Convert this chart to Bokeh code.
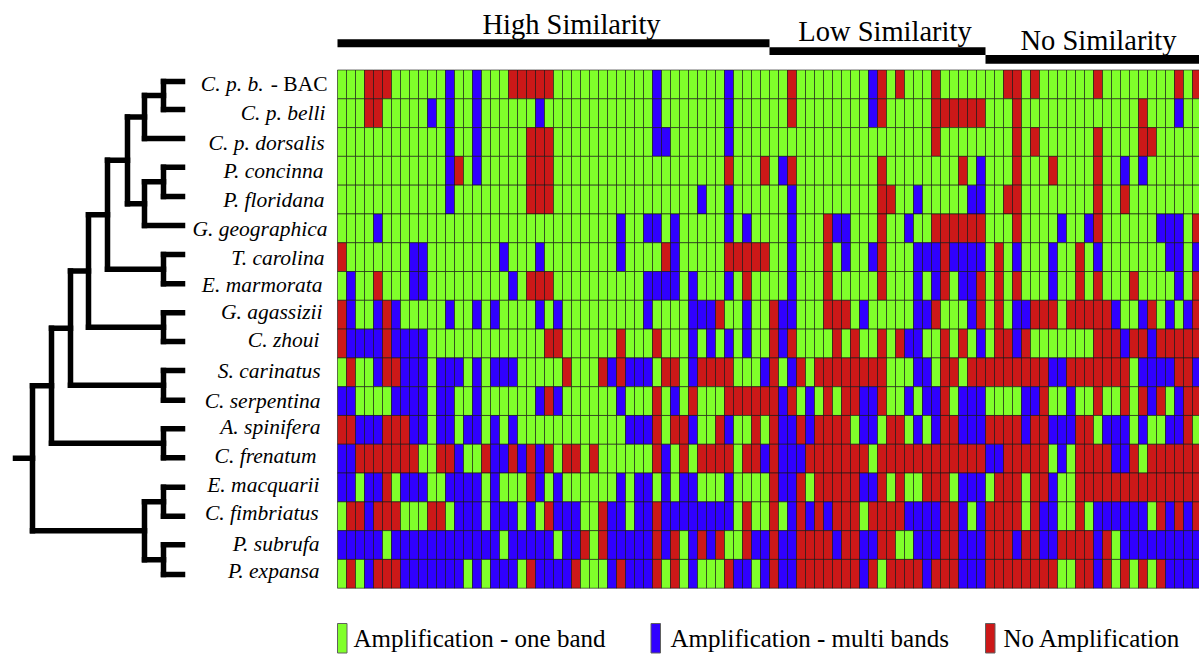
from bokeh.embed import file_html
from bokeh.resources import INLINE
from bokeh.plotting import figure
from bokeh.models import ColumnDataSource, Range1d
from bokeh.core.properties import value

species = ["C. p. b.", "C. p. belli", "C. p. dorsalis", "P. concinna", "P. floridana", "G. geographica",
           "T. carolina", "E. marmorata", "G. agassizii", "C. zhoui", "S. carinatus", "C. serpentina",
           "A. spinifera", "C. frenatum", "E. macquarii", "C. fimbriatus", "P. subrufa", "P. expansa"]
label_right = [263, 325, 324, 323, 324, 327, 324, 322, 322, 319, 320, 320, 320, 316, 319, 318, 319, 319]
label_y = [83.5, 112, 142, 170.5, 199, 228.5, 257, 284.5, 311, 339.5, 370.5, 400, 426, 455, 484, 512.5, 543, 570]
leaf_y = [81, 109, 138, 166.7, 196, 225, 254, 283.3, 312.3, 341, 370, 399.7, 428.3, 457.3, 486.7, 515.7, 544.3, 574]
n_columns = 96

multi_band = [
    [12,15,35,43,59],
    [10,12,15,22,35,43,59,93],
    [12,15,35,36,43],
    [12,15,49,71,87,89],
    [12,40,43,50,64,70,71],
    [4,31,34,35,37,43,45,50,55,56,63,80,83,91,92,93],
    [8,9,18,22,31,37,50,56,59,64,65,66,68,69,70,71,75,79,84,92,93,95],
    [1,8,9,19,34,35,36,37,39,43,50,64,66,69,70,79,93],
    [1,4,6,12,15,17,22,24,34,39,40,41,45,49,50,58,64,65,70,75,76,86,89,92,94],
    [1,2,3,4,6,7,8,9,39,41,43,45,49,63,64,71,75,87,90],
    [4,7,8,9,11,12,13,15,17,18,19,30,32,33,34,39,47,50,64,65,79,80,89,90,91,92,95],
    [0,1,6,7,8,9,11,12,15,22,24,31,37,49,52,58,59,63,65,66,69,70,71,76,77,81,90,93],
    [2,3,4,8,9,11,12,14,15,17,19,32,33,34,39,43,49,50,52,58,59,64,66,69,70,71,76,79,80,81,85,86,87,89,92,93],
    [0,1,13,17,18,20,22,36,47,49,50,51,72,73,80,86,87],
    [0,1,3,4,7,8,9,12,13,14,15,17,22,24,31,33,34,36,38,39,43,49,50,58,59,69,70,71,79],
    [3,13,14,15,17,18,19,21,24,25,26,30,31,33,34,36,37,38,39,40,41,42,43,50,52,54,63,64,65,66,69,71,78,79,84,85,86,87,88,89,92,94],
    [0,1,2,3,4,6,7,8,9,10,11,12,13,14,15,16,17,19,20,21,22,23,25,26,30,31,32,33,34,36,39,41,46,47,49,50,55,58,59,64,65,66,69,70,71,75,78,79,84,87,88,89,90,91,92,93,94,95],
    [3,7,8,9,10,11,12,13,15,17,18,19,22,23,24,25,30,32,33,34,39,44,45,47,49,50,58,65,69,70,71,84,92,93,94,95],
]
no_amp = [
    [3,4,5,19,20,21,22,23,50,60,62,66,74,75,77,84,93,95],
    [3,4,50,60,66,67,68,69,70,71,75,89],
    [21,22,23,66,75,77,84,89,90],
    [13,21,22,23,43,47,50,60,69,75,79,84],
    [21,22,23,60,61,74,75,84,87],
    [54,60,66,67,68,69,70,71,75,84,95],
    [0,36,43,44,45,46,47,54,60,67,73,82],
    [4,21,22,23,45,54,60,67,71,73,75,82,84,88,95],
    [0,5,42,48,54,55,56,66,71,73,77,78,79,81,82,83,84,85,90,95],
    [0,5,23,24,31,35,48,50,55,57,60,62,67,69,73,74,76,84,85,86,88,89,91,92,93,94,95],
    [1,5,6,25,29,31,36,37,40,41,42,43,48,51,53,54,55,56,57,58,59,60,67,68,70,71,72,73,74,75,76,77,78,81,82,83,84,85,86,87,93,94],
    [23,35,39,43,44,45,46,47,48,50,54,56,57,60,67,78,84,87,89,91,94,95],
    [0,1,5,6,7,35,37,38,42,46,48,51,53,54,55,56,61,62,67,68,72,73,74,75,77,78,82,83,94],
    [2,3,4,5,6,7,8,11,12,16,19,21,23,25,26,28,35,38,40,41,42,43,45,46,48,52,53,54,55,56,57,58,60,61,62,63,64,65,66,67,68,69,70,71,74,75,76,77,78,82,83,84,85,88,90,91,92,93,94,95],
    [5,21,48,51,53,54,55,56,57,60,62,65,66,67,73,74,75,77,78,82,83,84,85,86,87,88,89,90,91,92,93,94,95],
    [1,2,4,5,6,10,11,23,29,35,45,48,51,53,55,56,57,59,60,61,62,67,68,72,73,74,75,77,82,91,93,95],
    [27,29,35,37,40,42,45,48,51,52,53,54,56,57,60,61,67,68,72,73,74,76,77,80,81,82,83,85],
    [1,4,5,6,21,26,31,35,37,43,48,51,52,53,54,55,56,57,59,61,62,63,64,66,67,68,72,73,74,75,76,77,78,79,82,83,85,87,89,91],
]

GREEN, BLUE, RED = "#80ff2a", "#3000ff", "#cc1818"
sections = ["High Similarity", "Low Similarity", "No Similarity"]
section_edges = [0, 48, 72, 96]
section_bar_y = [38.7, 46.7, 54.4, 63.2]
section_text_x = [571, 884.5, 1098]
section_text_y = [24, 31, 40]
legend_names = ["Amplification - one band", "Amplification - multi bands", "No Amplification"]
legend_swatch_x = [337, 650.5, 985]
legend_text_x = [353, 670, 1003]

# nested (page-x of the joint, child, child); an int child is a leaf row
tree = (32,
        (51,
         (70,
          (88,
           (107,
            (127, (144, (163, 0, 1), 2), (144, (163, 3, 4), 5)),
            (163, 6, 7)),
           (163, 8, 9)),
          (163, 10, 11)),
         (163, 12, 13)),
        (144, (163, 14, 15), (163, 16, 17)))
TIP_X, ROOT_X = 182, 15

ROW_H, COL_W, X0, Y0 = 28.79, 9.0, 337.0, 69.5
p = figure(width=1199, height=654, output_backend="svg", toolbar_location=None,
           x_range=Range1d((0 - X0) / COL_W, (1199 - X0) / COL_W),
           y_range=Range1d((654 - Y0) / ROW_H, (0 - Y0) / ROW_H),
           min_border=0, outline_line_color=None, background_fill_color="white")
p.axis.visible = False
p.grid.visible = False
p.extra_y_ranges = {"page": Range1d(654, 0)}
p.extra_x_ranges = {"page": Range1d(0, 1199)}

cols, rows, colors = [], [], []
for r in range(len(species)):
    for c in range(n_columns):
        cols.append(c)
        rows.append(r)
        colors.append(BLUE if c in multi_band[r] else RED if c in no_amp[r] else GREEN)
src = ColumnDataSource(dict(left=cols, right=[c + 1 for c in cols], top=rows,
                            bottom=[r + 1 for r in rows], color=colors))
p.quad(left="left", right="right", top="top", bottom="bottom", fill_color="color", source=src,
       line_color="#101010", line_alpha=0.6, line_width=1)

# similarity bars and titles
p.quad(left=section_edges[:-1], right=section_edges[1:],
       top=section_bar_y[:-1], bottom=section_bar_y[1:], y_range_name="page",
       fill_color="black", line_color=None)
serif = value("Liberation Serif")
p.text(x=section_text_x, y=section_text_y, text=sections, x_range_name="page", y_range_name="page",
       text_font=serif, text_font_size="28.5px", text_align="center", text_baseline="middle", text_color="black")

# tree
xs, ys = [], []
def walk(node):
    if isinstance(node, int):
        return TIP_X, leaf_y[node], True
    x = node[0]
    ya = []
    for child in node[1:]:
        cx, cy = child_pos(child)
        ya.append(cy)
        xs.append([x, cx]); ys.append([cy, cy])
    xs.append([x, x]); ys.append(ya)
    return x, sum(ya) / 2, False
def child_pos(child):
    cx, cy, _ = walk(child)
    return cx, cy
rx, ry, _ = walk(tree)
xs.append([ROOT_X, rx]); ys.append([ry, ry])
p.multi_line(xs=xs, ys=ys, x_range_name="page", y_range_name="page", line_color="black",
             line_width=5.5, line_cap="square", line_join="miter")

# species labels
p.text(x=label_right, y=label_y, text=species, x_range_name="page", y_range_name="page",
       text_font=serif, text_font_style="italic", text_font_size="21.5px", text_align="right",
       text_baseline="middle", text_color="black")
p.text(x=[327], y=[label_y[0]], text=["- BAC"], x_range_name="page", y_range_name="page",
       text_font=serif, text_font_size="21.5px", text_align="right", text_baseline="middle", text_color="black")

# legend
p.quad(left=legend_swatch_x, right=[x + 9.5 for x in legend_swatch_x], top=[623] * 3, bottom=[652.5] * 3,
       y_range_name="page", x_range_name="page", fill_color=[GREEN, BLUE, RED], line_color="#606060", line_width=1)
p.text(x=legend_text_x, y=[638] * 3, text=legend_names, x_range_name="page", y_range_name="page",
       text_font=serif, text_font_size="25px", text_baseline="middle", text_color="black")

open("out.html", "w").write(file_html(p, INLINE))
